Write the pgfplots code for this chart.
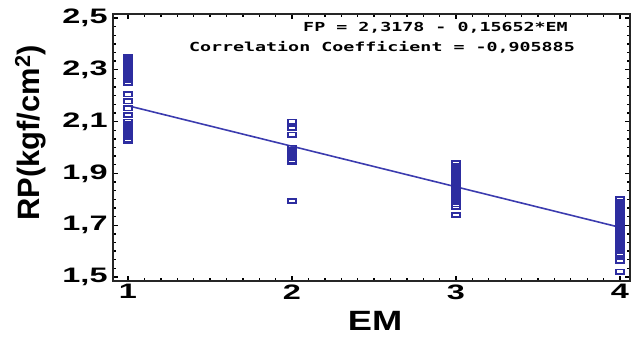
\documentclass[border=0pt]{standalone}
\usepackage{fontspec}
\setmainfont{Liberation Sans}
\newfontfamily\monofont{DejaVu Sans Mono}
\usepackage{pgfplots}
\pgfplotsset{compat=1.18}
\definecolor{ptblue}{RGB}{45,45,160}
\definecolor{lnblue}{RGB}{60,60,175}
\pgfdeclareplotmark{rrect}{%
  \pgfsetcornersarced{\pgfpoint{1.6pt}{1.6pt}}%
  \pgfpathrectangle{\pgfpoint{-3.8pt}{-2.1pt}}{\pgfpoint{7.6pt}{4.2pt}}%
  \pgfusepathqstroke
}
\begin{document}
\begin{tikzpicture}
\begin{axis}[
  scale only axis, width=517bp, height=267bp,
  xmin=0.9085, xmax=4.061, ymin=1.4846, ymax=2.5154,
  xtick={1,2,3,4}, ytick={1.5,1.7,1.9,2.1,2.3,2.5},
  minor x tick num=9, minor y tick num=5,
  tick pos=both, tick align=inside,
  major tick length=5pt, minor tick length=3pt,
  every tick/.style={black, line width=1.4pt},
  axis line style={line width=1.3pt, black!85},
  /pgf/number format/assume math mode=true,
  yticklabel style={/pgf/number format/.cd, fixed, fixed zerofill, precision=1, use comma},
  ticklabel style={font=\bfseries\fontsize{21}{21}\selectfont, xscale=1.55},
  every axis y label/.style={at={(axis description cs:-0.16,0.555)}, rotate=90, anchor=center},
  every axis x label/.style={at={(axis description cs:0.507,-0.15)}, anchor=center},
  ylabel={RP(kgf/cm\textsuperscript{2})},
  xlabel={EM},
  ylabel style={font=\bfseries\fontsize{31}{31}\selectfont},
  xlabel style={font=\bfseries\fontsize{28}{28}\selectfont, xscale=1.3},
  clip=false,
]
\addplot[only marks, mark=rrect, draw=ptblue, mark options={line width=1.8pt, draw=ptblue}] table {
x y
1 2.35
1 2.34
1 2.33
1 2.32
1 2.31
1 2.30
1 2.29
1 2.28
1 2.27
1 2.26
1 2.25
1 2.205
1 2.178
1 2.151
1 2.126
1 2.10
1 2.09
1 2.08
1 2.07
1 2.06
1 2.05
1 2.04
1 2.03
1 2.025
2 2.10
2 2.075
2 2.05
2 2.00
2 1.99
2 1.98
2 1.97
2 1.96
2 1.95
2 1.943
2 1.793
3 1.94
3 1.93
3 1.92
3 1.91
3 1.90
3 1.89
3 1.88
3 1.87
3 1.86
3 1.85
3 1.84
3 1.83
3 1.82
3 1.81
3 1.80
3 1.79
3 1.78
3 1.772
3 1.739
4 1.80
4 1.79
4 1.78
4 1.77
4 1.76
4 1.75
4 1.74
4 1.73
4 1.72
4 1.71
4 1.70
4 1.69
4 1.68
4 1.67
4 1.66
4 1.65
4 1.64
4 1.63
4 1.62
4 1.61
4 1.60
4 1.59
4 1.585
4 1.562
4 1.521
};
\addplot[lnblue, line width=1.6pt] coordinates {(1,2.16128) (4,1.69172)};
\node[anchor=base east, font=\monofont\bfseries\fontsize{12.5}{12.5}\selectfont, xscale=1.47] at (axis cs:3.713,2.446) {FP = 2,3178 - 0,15652*EM};
\node[anchor=base east, font=\monofont\bfseries\fontsize{12.5}{12.5}\selectfont, xscale=1.47] at (axis cs:3.756,2.369) {Correlation Coefficient = -0,905885};
\end{axis}
\pgfresetboundingbox
\path ([shift={(-113bp,-69bp)}]current axis.south west) rectangle ([shift={(4bp,14bp)}]current axis.north east);
\end{tikzpicture}
\end{document}
